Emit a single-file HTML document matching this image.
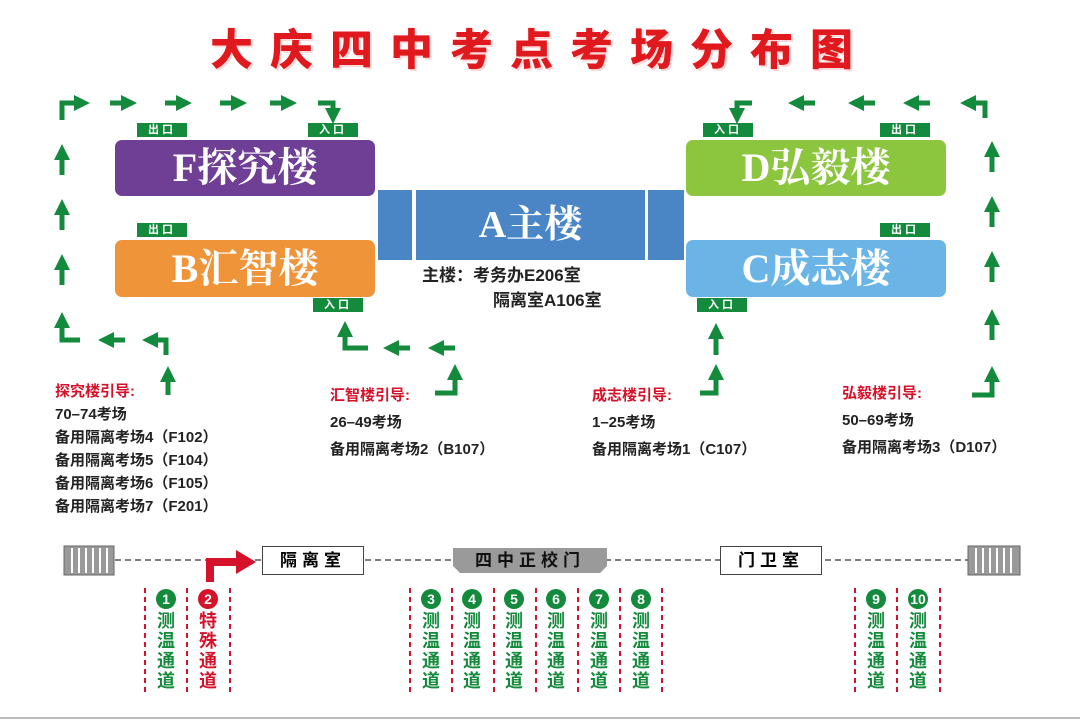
<!DOCTYPE html>
<html><head><meta charset="utf-8"><style>
body{margin:0;width:1080px;height:720px;background:#fff;position:relative;overflow:hidden;font-family:"Liberation Sans","Noto Sans CJK SC",sans-serif}
.a{position:absolute}
.title{left:0;width:1080px;top:16px;text-align:center;font-size:43px;font-weight:900;color:#e0191f;letter-spacing:17px;text-shadow:2px 2px 0 #fbd9d9}
.bld{position:absolute;border-radius:7px;color:#fff;font-size:40px;font-weight:bold;text-align:center;font-family:"Liberation Serif","Noto Serif CJK SC",serif;letter-spacing:0px}
.tag{position:absolute;background:#138a3c;color:#fff;font-size:11px;font-weight:bold;width:50px;height:14px;line-height:14px;text-align:center;letter-spacing:3px}
.txt{position:absolute;font-size:15px;font-weight:bold;color:#222;line-height:23px;white-space:nowrap}
.red{color:#d6112a}
.box{position:absolute;border:1px solid #444;background:#fff;height:27px;line-height:27px;text-align:center;font-size:17px;font-weight:bold;letter-spacing:5px}
.ch{position:absolute;top:588px;width:40px;text-align:center;color:#138a3c;font-weight:bold;font-size:18px;line-height:20px}
.ch .n{display:inline-block;width:20px;height:20px;border-radius:50%;background:#138a3c;color:#fff;font-size:14px;line-height:20px;margin-bottom:2px}
.ch.r{color:#d6112a}.ch.r .n{background:#d6112a}
</style></head><body>
<div class="a title">大庆四中考点考场分布图</div>

<div class="bld" style="left:115px;top:140px;width:260px;height:56px;line-height:56px;background:#6f3f96">F探究楼</div>
<div class="bld" style="left:115px;top:240px;width:260px;height:57px;line-height:57px;background:#f0943a">B汇智楼</div>
<div class="bld" style="left:686px;top:140px;width:260px;height:56px;line-height:56px;background:#8cc63f">D弘毅楼</div>
<div class="bld" style="left:686px;top:240px;width:260px;height:57px;line-height:57px;background:#6bb5e6">C成志楼</div>
<div class="a" style="left:378px;top:190px;width:34px;height:70px;background:#4a86c6"></div>
<div class="bld" style="left:416px;top:190px;width:229px;height:70px;line-height:70px;background:#4a86c6;border-radius:0;font-size:38px">A主楼</div>
<div class="a" style="left:648px;top:190px;width:36px;height:70px;background:#4a86c6"></div>

<div class="tag" style="left:137px;top:123px">出口</div>
<div class="tag" style="left:308px;top:123px">入口</div>
<div class="tag" style="left:137px;top:223px">出口</div>
<div class="tag" style="left:313px;top:298px">入口</div>
<div class="tag" style="left:703px;top:123px">入口</div>
<div class="tag" style="left:880px;top:123px">出口</div>
<div class="tag" style="left:880px;top:223px">出口</div>
<div class="tag" style="left:697px;top:298px">入口</div>

<div class="txt" style="left:422px;top:263px;font-size:17px;line-height:25px">主楼：考务办E206室<br><span style="padding-left:71px">隔离室A106室</span></div>

<svg class="a" style="left:0;top:0" width="1080" height="720">
<defs><marker id="h" markerUnits="userSpaceOnUse" markerWidth="16" markerHeight="16" refX="2" refY="8" orient="auto"><path d="M0,0 L16,8 L0,16 z" fill="#138a3c"/></marker></defs>
<g stroke="#138a3c" stroke-width="5" fill="none" marker-end="url(#h)">
<path d="M62,120 V103 H76"/><path d="M110,103 H123"/><path d="M165,103 H178"/><path d="M220,103 H233"/><path d="M270,103 H283"/><path d="M318,103 H333 V110"/>
<path d="M62,175 V158"/><path d="M62,230 V213"/><path d="M62,285 V268"/><path d="M80,340 H62 V326"/>
<path d="M125,340 H112"/><path d="M166,355 V340 H156"/><path d="M168,395 V380"/>
<path d="M435,393 H455 V378"/><path d="M455,348 H442"/><path d="M410,348 H397"/><path d="M368,348 H345 V335"/>
<path d="M700,393 H716 V378"/><path d="M716,355 V337"/>
<path d="M985,118 V103 H974"/><path d="M930,103 H917"/><path d="M875,103 H862"/><path d="M815,103 H802"/><path d="M752,103 H737 V110"/>
<path d="M992,172 V155"/><path d="M992,227 V210"/><path d="M992,282 V265"/><path d="M992,340 V323"/><path d="M972,395 H992 V380"/>
</g>
<line x1="115" y1="560" x2="968" y2="560" stroke="#555" stroke-width="1.5" stroke-dasharray="6,4"/>
<path d="M210,582 V562 H238" stroke="#d6112a" stroke-width="8" fill="none"/>
<path d="M236,550 L256,562 L236,574 z" fill="#d6112a"/>
<g stroke="#d6112a" stroke-width="2" stroke-dasharray="5,4">
<line x1="145" y1="588" x2="145" y2="692"/><line x1="187" y1="588" x2="187" y2="692"/><line x1="230" y1="588" x2="230" y2="692"/>
<line x1="410" y1="588" x2="410" y2="692"/><line x1="452" y1="588" x2="452" y2="692"/><line x1="494" y1="588" x2="494" y2="692"/><line x1="536" y1="588" x2="536" y2="692"/><line x1="578" y1="588" x2="578" y2="692"/><line x1="620" y1="588" x2="620" y2="692"/><line x1="662" y1="588" x2="662" y2="692"/>
<line x1="855" y1="588" x2="855" y2="692"/><line x1="897" y1="588" x2="897" y2="692"/><line x1="940" y1="588" x2="940" y2="692"/>
</g>
<g fill="#999" stroke="#666"><rect x="64" y="546" width="50" height="29"/><rect x="968" y="546" width="52" height="29"/></g>
<g stroke="#fff" stroke-width="2"><path d="M72,548V573M79,548V573M86,548V573M93,548V573M100,548V573M107,548V573M976,548V573M983,548V573M990,548V573M997,548V573M1004,548V573M1011,548V573"/></g>
<path d="M453,548 H607 V566 L600,573 H460 L453,566 z" fill="#9a9a9a"/>
<line x1="0" y1="718" x2="1080" y2="718" stroke="#bbb" stroke-width="2"/>
</svg>

<div class="box" style="left:262px;top:546px;width:100px">隔离室</div>
<div class="box" style="left:720px;top:546px;width:100px">门卫室</div>
<div class="a" style="left:453px;top:548px;width:154px;height:25px;line-height:25px;text-align:center;font-size:17px;font-weight:bold;letter-spacing:5px;color:#111">四中正校门</div>

<div class="txt" style="left:55px;top:380px"><span class="red">探究楼引导:</span><br>70–74考场<br>备用隔离考场4（F102）<br>备用隔离考场5（F104）<br>备用隔离考场6（F105）<br>备用隔离考场7（F201）</div>
<div class="txt" style="left:330px;top:382px;line-height:27px"><span class="red">汇智楼引导:</span><br>26–49考场<br>备用隔离考场2（B107）</div>
<div class="txt" style="left:592px;top:382px;line-height:27px"><span class="red">成志楼引导:</span><br>1–25考场<br>备用隔离考场1（C107）</div>
<div class="txt" style="left:842px;top:380px;line-height:27px"><span class="red">弘毅楼引导:</span><br>50–69考场<br>备用隔离考场3（D107）</div>

<div class="ch" style="left:146px"><span class="n">1</span><br>测<br>温<br>通<br>道</div>
<div class="ch r" style="left:188px"><span class="n">2</span><br>特<br>殊<br>通<br>道</div>
<div class="ch" style="left:411px"><span class="n">3</span><br>测<br>温<br>通<br>道</div>
<div class="ch" style="left:452px"><span class="n">4</span><br>测<br>温<br>通<br>道</div>
<div class="ch" style="left:494px"><span class="n">5</span><br>测<br>温<br>通<br>道</div>
<div class="ch" style="left:536px"><span class="n">6</span><br>测<br>温<br>通<br>道</div>
<div class="ch" style="left:579px"><span class="n">7</span><br>测<br>温<br>通<br>道</div>
<div class="ch" style="left:621px"><span class="n">8</span><br>测<br>温<br>通<br>道</div>
<div class="ch" style="left:856px"><span class="n">9</span><br>测<br>温<br>通<br>道</div>
<div class="ch" style="left:898px"><span class="n">10</span><br>测<br>温<br>通<br>道</div>
</body></html>
